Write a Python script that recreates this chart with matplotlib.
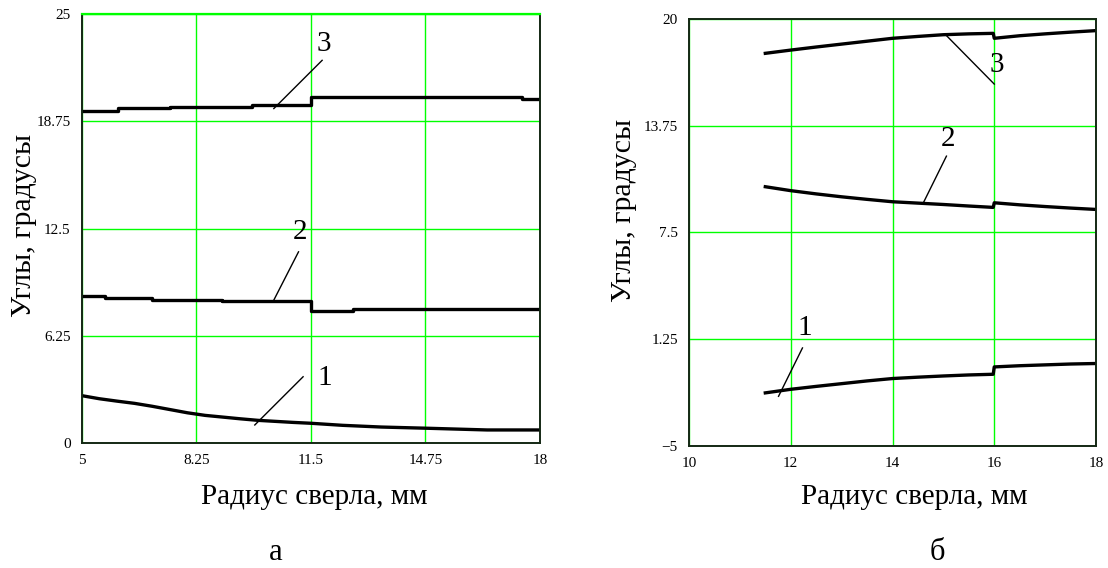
import numpy as np
import matplotlib
matplotlib.use('Agg')
from matplotlib import pyplot as plt

plt.rcParams['font.family'] = ['Liberation Serif', 'DejaVu Serif']

# panel a: radius 5..18 mm
x3a = [5.0, 6.04, 7.51, 9.82, 11.5, 17.48, 18.0]
y3a = [19.35, 19.51, 19.59, 19.70, 20.17, 20.05, 20.05]
x2a = [5.0, 5.66, 6.99, 8.97, 11.5, 12.70, 18.0]
y2a = [8.56, 8.43, 8.35, 8.27, 7.71, 7.79, 7.79]
x1a = [5.0, 5.5, 6.0, 6.5, 7.0, 7.5, 8.0, 8.5, 9.0, 9.5, 10.0, 10.5, 11.0, 11.5,
       12.4, 13.5, 14.8, 16.5, 18.0]
y1a = [2.76, 2.58, 2.44, 2.31, 2.14, 1.95, 1.76, 1.61, 1.51, 1.41, 1.32, 1.26, 1.20, 1.15,
       1.03, 0.93, 0.86, 0.76, 0.76]

# panel b: radius 11.5..18 mm
xb = [11.5, 12.0, 12.5, 13.0, 13.5, 14.0, 14.5, 15.0, 15.5, 15.98, 16.0, 16.5, 17.0, 17.5, 18.0]
y3b = [17.99, 18.18, 18.36, 18.53, 18.70, 18.87, 18.98, 19.08, 19.13, 19.16, 18.87, 19.02, 19.13, 19.23, 19.32]
y2b = [10.18, 9.95, 9.76, 9.59, 9.44, 9.30, 9.22, 9.14, 9.05, 8.97, 9.24, 9.12, 9.02, 8.93, 8.85]
y1b = [-1.89, -1.68, -1.51, -1.35, -1.19, -1.05, -0.97, -0.90, -0.84, -0.80, -0.37, -0.30, -0.25, -0.20, -0.17]

xticks_a = [5, 8.25, 11.5, 14.75, 18]
xtick_labels_a = ['5', '8.25', '11.5', '14.75', '18']
yticks_a = [0, 6.25, 12.5, 18.75, 25]
ytick_labels_a = ['0', '6.25', '12.5', '18.75', '25']
xticks_b = [10, 12, 14, 16, 18]
xtick_labels_b = ['10', '12', '14', '16', '18']
yticks_b = [-5, 1.25, 7.5, 13.75, 20]
ytick_labels_b = ['\u22125', '1.25', '7.5', '13.75', '20']

xlabel = 'Радиус сверла, мм'
ylabel = 'Углы, градусы'

# curve number, text position, leader start, leader end
labels_a = [('3', (11.88, 23.28), (11.82, 22.3), (10.45, 19.49)),
            ('2', (11.19, 12.31), (11.15, 11.14), (10.45, 8.33)),
            ('1', (11.90, 3.77), (11.28, 3.86), (9.91, 1.05))]
labels_b = [('3', (16.05, 17.3), (15.07, 19.0), (16.0, 16.19)),
            ('2', (15.10, 13.0), (15.06, 11.97), (14.61, 9.26)),
            ('1', (12.28, 1.88), (12.23, 0.74), (11.76, -2.09))]

W, H = 1108, 568
fig = plt.figure(figsize=(W / 100, H / 100), dpi=100)

def px_axes(x0, y0, x1, y1):
    return fig.add_axes([x0 / W, 1 - y1 / H, (x1 - x0) / W, (y1 - y0) / H])

ax_a = px_axes(81.7, 14, 540, 443)
ax_b = px_axes(689, 19, 1096, 446)

green = '#00ff00'
spine_col = '#142814'
lw_curve = 2.4
lw_lead = 1.0

def style(ax, xt, xtl, yt, ytl):
    ax.set_xticks(xt)
    ax.set_xticklabels(xtl)
    ax.set_yticks(yt)
    ax.set_yticklabels(ytl)
    ax.set_xlim(xt[0], xt[-1])
    ax.set_ylim(yt[0], yt[-1])
    ax.tick_params(length=0, labelsize=11, pad=8)
    ax.grid(True, color=green, linewidth=1.0)
    for s in ax.spines.values():
        s.set_color(spine_col)
        s.set_linewidth(1.4)

style(ax_a, xticks_a, xtick_labels_a, yticks_a, ytick_labels_a)
style(ax_b, xticks_b, xtick_labels_b, yticks_b, ytick_labels_b)
ax_a.axhline(yticks_a[-1], color=green, linewidth=1.6, zorder=3, clip_on=False)

ax_a.plot(x3a, y3a, color='black', linewidth=lw_curve, drawstyle='steps-post')
ax_a.plot(x2a, y2a, color='black', linewidth=lw_curve, drawstyle='steps-post')
ax_a.plot(x1a, y1a, color='black', linewidth=lw_curve)

ax_b.plot(xb, y3b, color='black', linewidth=lw_curve)
ax_b.plot(xb, y2b, color='black', linewidth=lw_curve)
ax_b.plot(xb, y1b, color='black', linewidth=lw_curve)

for ax, labs in ((ax_a, labels_a), (ax_b, labels_b)):
    for num, tpos, p0, p1 in labs:
        ax.plot([p0[0], p1[0]], [p0[1], p1[1]], color='black', linewidth=lw_lead)
        ax.text(tpos[0], tpos[1], num, fontsize=21, ha='center', va='center')

# axis titles placed in pixels
fig.text(314 / W, 1 - 497 / H, xlabel, fontsize=21, ha='center', va='center')
fig.text(914 / W, 1 - 497 / H, xlabel, fontsize=21, ha='center', va='center')
fig.text(24 / W, 1 - 225 / H, ylabel, fontsize=21.5, ha='center', va='center', rotation=90)
fig.text(624 / W, 1 - 210 / H, ylabel, fontsize=21.5, ha='center', va='center', rotation=90)
fig.text(276 / W, 1 - 553 / H, 'а', fontsize=22, ha='center', va='center')
fig.text(937 / W, 1 - 553 / H, 'б', fontsize=22, ha='center', va='center')

plt.savefig('out.png', dpi=100)
